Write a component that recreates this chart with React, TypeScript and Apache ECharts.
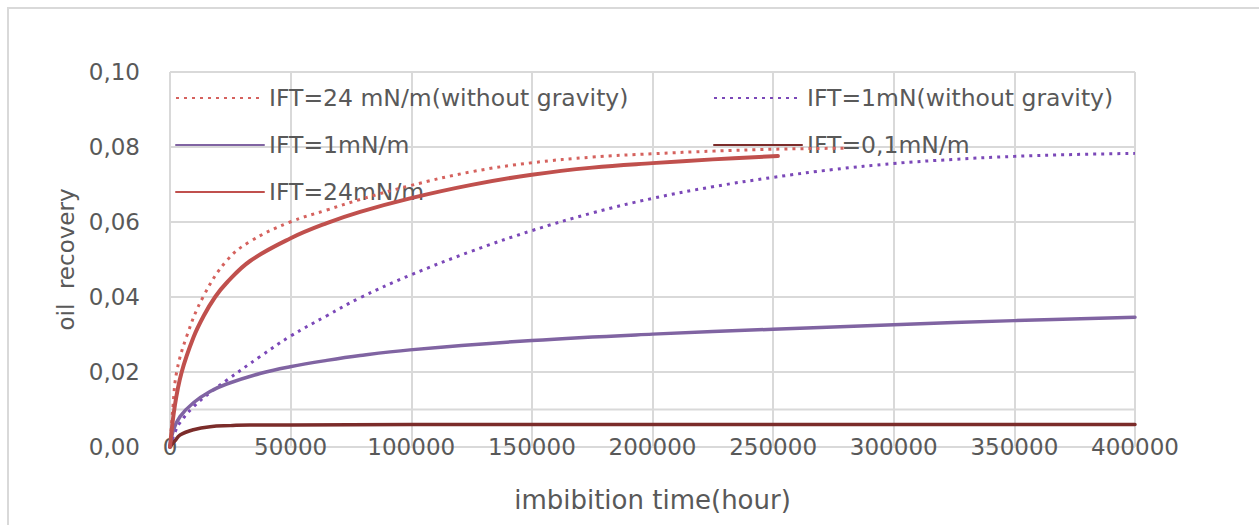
import React, { useEffect, useRef } from "react";
import * as echarts from "echarts";

const FONT = "DejaVu Sans";
const TEXT_COLOR = "#595959";
const GRID_COLOR = "#d9d9d9";

// Series names, in legend order
const NAME_RED24_NOGRAV = "IFT=24 mN/m(without gravity)";
const NAME_PURPLE1_NOGRAV = "IFT=1mN(without gravity)";
const NAME_PURPLE1 = "IFT=1mN/m";
const NAME_DARKRED01 = "IFT=0,1mN/m";
const NAME_RED24 = "IFT=24mN/m";

// IFT=24 mN/m (without gravity)
const tRed24NoGrav = [0, 1200, 2760, 6900, 13700, 23500, 33200, 49800, 65000, 78800, 99500, 125000, 150000, 175000, 200000, 225000, 250000, 280000];
const vRed24NoGrav = [0, 0.0105, 0.02, 0.0295, 0.04, 0.0497, 0.0548, 0.06, 0.0632, 0.066, 0.0697, 0.0734, 0.0758, 0.0773, 0.0782, 0.0789, 0.0794, 0.0797];

// IFT=1mN (without gravity)
const tPurple1NoGrav = [0, 2100, 4150, 9700, 16600, 23500, 37300, 49800, 65000, 78800, 99500, 125000, 150000, 175000, 200000, 225000, 250000, 275000, 300000, 325000, 350000, 375000, 400000];
const vPurple1NoGrav = [0, 0.004, 0.0065, 0.0107, 0.0145, 0.0178, 0.0241, 0.0295, 0.035, 0.0398, 0.0458, 0.0522, 0.0577, 0.0624, 0.0663, 0.0694, 0.0719, 0.074, 0.0756, 0.0767, 0.0775, 0.078, 0.0783];

// IFT=1mN/m
const tPurple1 = [0, 1400, 4150, 9700, 16600, 23500, 37300, 49800, 65000, 78800, 99500, 150000, 200000, 250000, 300000, 350000, 400000];
const vPurple1 = [0, 0.0045, 0.0081, 0.0118, 0.0148, 0.0168, 0.0196, 0.0214, 0.0231, 0.0244, 0.0259, 0.0284, 0.0301, 0.0314, 0.0326, 0.0337, 0.0346];

// IFT=0,1mN/m
const tDarkRed01 = [0, 2000, 4150, 9700, 16600, 25000, 33000, 50000, 100000, 150000, 200000, 250000, 300000, 350000, 400000];
const vDarkRed01 = [0, 0.0016, 0.0032, 0.0046, 0.0054, 0.0057, 0.0059, 0.0059, 0.006, 0.006, 0.006, 0.006, 0.006, 0.006, 0.006];

// IFT=24mN/m
const tRed24 = [0, 2000, 4850, 9700, 14000, 18700, 23500, 33200, 49800, 65000, 78800, 99500, 125000, 150000, 175000, 200000, 225000, 252000];
const vRed24 = [0, 0.011, 0.02, 0.0292, 0.035, 0.04, 0.0438, 0.0496, 0.0556, 0.0597, 0.0627, 0.0663, 0.0699, 0.0726, 0.0745, 0.0757, 0.0767, 0.0776];

// Axis settings
const X_MIN = 0;
const X_MAX = 400000;
const X_STEP = 50000;
const Y_MIN = 0;
const Y_MAX = 0.1;
const Y_STEP = 0.02;
// An additional unlabelled horizontal rule
const EXTRA_RULE_Y = [0.01, 0.01];
const EXTRA_RULE_X = [X_MIN, X_MAX];

const X_TITLE = "imbibition time(hour)";
const Y_TITLE = "oil  recovery";

const zip = (t: number[], v: number[]) => t.map((x, i) => [x, v[i]]);

const legendItem = (name: string, left: number, centerY: number) => ({
  data: [name],
  left,
  top: centerY - 12,
  padding: 0,
  itemWidth: 88,
  itemHeight: 14,
  z: 1,
  selectedMode: false,
  itemStyle: { opacity: 0 },
  textStyle: { fontFamily: FONT, fontSize: 23.5, color: TEXT_COLOR, lineHeight: 24 },
});

export default function App() {
  const ref = useRef<HTMLDivElement>(null);

  useEffect(() => {
    if (!ref.current) return;
    const chart = echarts.init(ref.current, undefined, { renderer: "svg" });

    const lineSeries = (name: string, data: number[][], color: string, width: number, dotted: boolean) => ({
      name,
      type: "line",
      data,
      symbol: "none",
      smooth: 0.4,
      silent: true,
      lineStyle: { color, width, type: dotted ? [3, 5] : "solid", cap: dotted ? "butt" : "round" },
      itemStyle: { color },
    });

    chart.setOption({
      animation: false,
      backgroundColor: "#ffffff",
      grid: { left: 170, right: 124, top: 72, bottom: 78, containLabel: false },
      graphic: [
        {
          type: "rect",
          shape: { x: 8, y: 8, width: 1300, height: 600 },
          style: { fill: "none", stroke: GRID_COLOR, lineWidth: 2 },
          silent: true,
        },
      ],
      legend: [
        legendItem(NAME_RED24_NOGRAV, 175, 98),
        legendItem(NAME_PURPLE1_NOGRAV, 713, 98),
        legendItem(NAME_PURPLE1, 175, 145),
        legendItem(NAME_DARKRED01, 713, 145),
        legendItem(NAME_RED24, 175, 192),
      ],
      xAxis: {
        type: "value",
        min: X_MIN,
        max: X_MAX,
        interval: X_STEP,
        name: X_TITLE,
        nameLocation: "middle",
        nameGap: 40,
        nameTextStyle: { fontFamily: FONT, fontSize: 26, color: TEXT_COLOR, verticalAlign: "top" },
        axisLine: { show: false },
        axisTick: { show: false },
        axisLabel: {
          fontFamily: FONT,
          fontSize: 23,
          color: TEXT_COLOR,
          margin: 0,
          verticalAlign: "middle",
          showMinLabel: true,
          showMaxLabel: true,
          formatter: (v: number) => String(v),
        },
        splitLine: { show: true, lineStyle: { color: GRID_COLOR, width: 2 } },
      },
      yAxis: {
        type: "value",
        min: Y_MIN,
        max: Y_MAX,
        interval: Y_STEP,
        name: Y_TITLE,
        nameLocation: "middle",
        nameGap: 93,
        nameTextStyle: { fontFamily: FONT, fontSize: 23, color: TEXT_COLOR },
        axisLine: { show: false },
        axisTick: { show: false },
        axisLabel: {
          fontFamily: FONT,
          fontSize: 23,
          color: TEXT_COLOR,
          margin: 30,
          formatter: (v: number) => v.toFixed(2).replace(".", ","),
        },
        splitLine: { show: true, lineStyle: { color: GRID_COLOR, width: 2 } },
      },
      series: [
        {
          name: "rule",
          type: "line",
          data: zip(EXTRA_RULE_X, EXTRA_RULE_Y),
          symbol: "none",
          silent: true,
          z: 1,
          lineStyle: { color: GRID_COLOR, width: 2 },
        },
        lineSeries(NAME_RED24_NOGRAV, zip(tRed24NoGrav, vRed24NoGrav), "#d5625e", 3, true),
        lineSeries(NAME_PURPLE1_NOGRAV, zip(tPurple1NoGrav, vPurple1NoGrav), "#7b48b8", 3, true),
        lineSeries(NAME_PURPLE1, zip(tPurple1, vPurple1), "#8064a2", 3.5, false),
        lineSeries(NAME_DARKRED01, zip(tDarkRed01, vDarkRed01), "#7b2c2a", 3.5, false),
        lineSeries(NAME_RED24, zip(tRed24, vRed24), "#c0504d", 4, false),
      ],
    });

    return () => chart.dispose();
  }, []);

  return (
    <div
      ref={ref}
      style={{ position: "fixed", left: 0, top: 0, width: 1259, height: 525, background: "#fff" }}
    />
  );
}
